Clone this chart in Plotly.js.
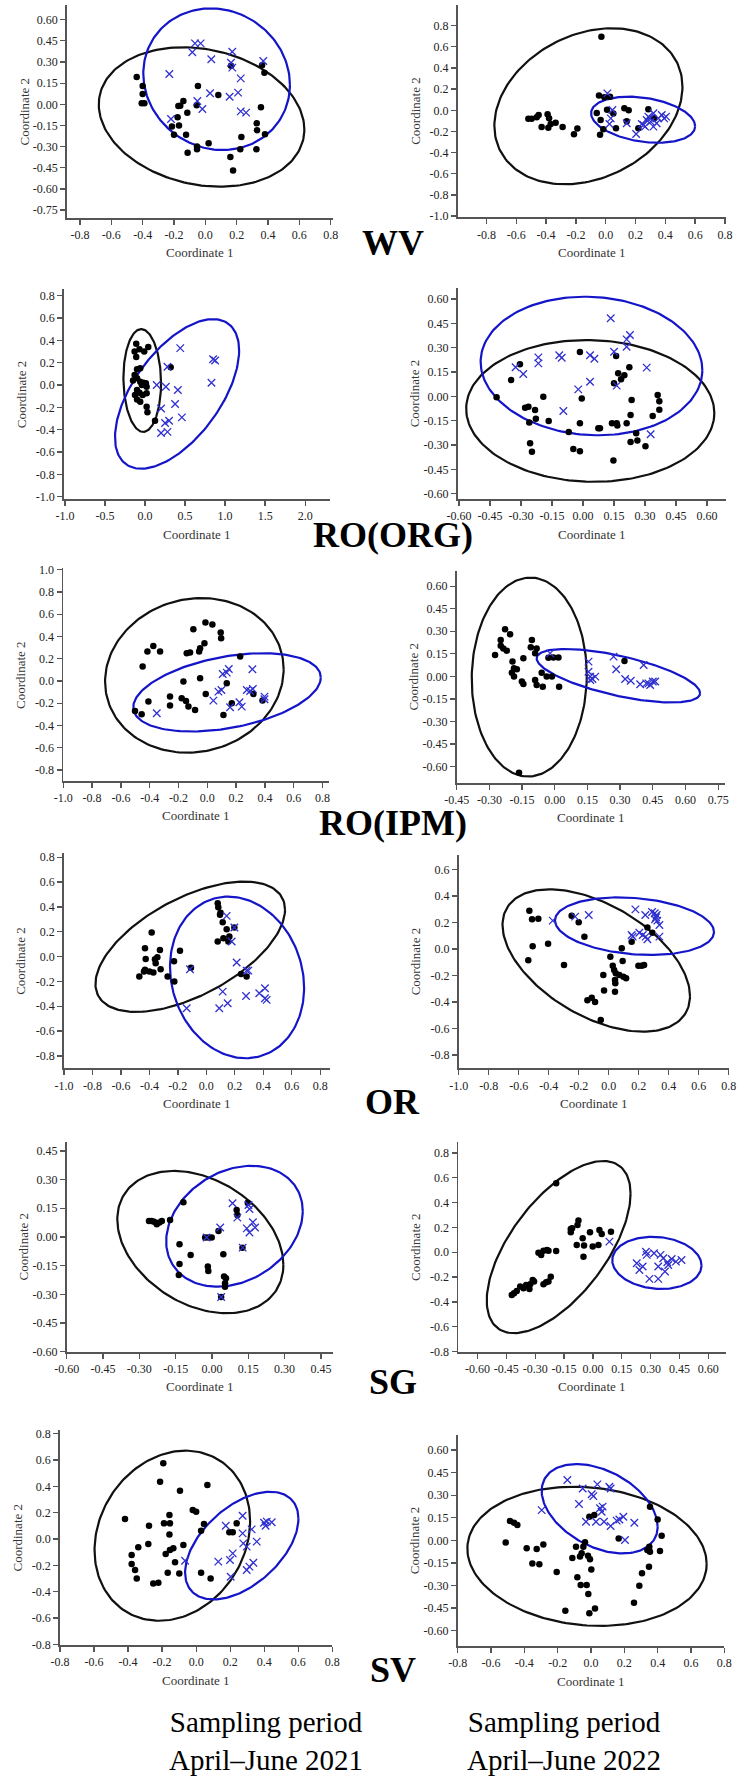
<!DOCTYPE html>
<html><head><meta charset="utf-8">
<script src="https://cdn.plot.ly/plotly-3.0.1.min.js"></script>
<style>html,body{margin:0;padding:0;background:#fff}#chart{width:745px;height:1785px}</style>
</head><body><div id="chart"></div>
<script>
// ===== DATA =====
const siteLabels = ["WV", "RO(ORG)", "RO(IPM)", "OR", "SG", "SV"];
const periodLabels = ["Sampling period<br>April\u2013June 2021", "Sampling period<br>April\u2013June 2022"];

// WV 2021
const wv21_blackX = [-0.438,-0.40,-0.40,-0.406,-0.389,-0.172,-0.16,-0.14,-0.115,-0.047,-0.055,-0.177,-0.168,-0.213,-0.20,-0.123,-0.053,-0.053,-0.113,0.021,0.083,0.164,0.362,0.377,0.355,0.328,0.33,0.381,0.23,0.223,0.326,0.16,0.177];
const wv21_blackY = [0.194,0.13,0.073,0.007,0.007,-0.012,-0.01,0.024,-0.06,0.13,-0.007,-0.092,-0.151,-0.158,-0.215,-0.215,-0.30,-0.319,-0.343,-0.276,0.066,0.274,0.276,0.224,-0.021,-0.135,-0.184,-0.213,-0.232,-0.319,-0.319,-0.373,-0.47];
const wv21_blueX = [-0.066,-0.03,-0.083,-0.23,0.038,0.172,0.164,0.172,0.226,0.37,0.03,-0.051,-0.019,-0.219,0.209,0.155,0.226,0.26];
const wv21_blueY = [0.432,0.432,0.369,0.215,0.319,0.373,0.295,0.26,0.184,0.307,0.078,0.024,-0.033,-0.104,0.083,0.054,-0.05,-0.059];
const wv21_ellipses = [[-0.024,-0.09,0.656,0.494,-0.18],[0.072,0.178,0.468,0.502,-0.08]];
const wv21_xticks = [-0.8,-0.6,-0.4,-0.2,0,0.2,0.4,0.6,0.8];
const wv21_yticks = [0.60,0.45,0.30,0.15,0,-0.15,-0.30,-0.45,-0.60,-0.75];

// WV 2022
const wv22_blackX = [-0.029,-0.045,-0.009,0.029,-0.519,-0.497,-0.463,-0.45,-0.39,-0.38,-0.369,-0.385,-0.43,-0.336,-0.289,-0.213,-0.19,-0.06,-0.034,-0.038,-0.016,0.009,0.051,0.069,0.125,0.154,0.141,0.219,0.286,0.324];
const wv22_blackY = [0.696,0.139,0.123,0.129,-0.079,-0.079,-0.066,-0.044,-0.038,-0.076,-0.129,-0.164,-0.157,-0.117,-0.157,-0.227,-0.173,-0.025,-0.091,-0.23,-0.18,0.006,-0.031,-0.17,0.019,0.0,-0.104,-0.17,0.009,-0.076];
const wv22_blueX = [0.011,0.045,0.034,0.025,0.141,0.204,0.253,0.275,0.286,0.302,0.32,0.342,0.32,0.376,0.392,0.405,0.264,0.242,0.298,0.353];
const wv22_blueY = [0.16,0.003,-0.076,-0.129,-0.123,-0.224,-0.139,-0.091,-0.06,-0.107,-0.154,-0.123,-0.028,-0.044,-0.076,-0.06,-0.154,-0.129,-0.076,-0.076];
const wv22_ellipses = [[-0.116,0.038,0.631,0.737,0.25],[0.251,-0.089,0.349,0.218,-0.28]];
const wv22_xticks = [-1.0,-0.8,-0.6,-0.4,-0.2,0,0.2,0.4,0.6,0.8];
const wv22_yticks = [0.8,0.6,0.4,0.2,0,-0.2,-0.4,-0.6,-0.8,-1.0];

// RO(ORG) 2021
const org21_blackX = [-0.11,-0.13,-0.07,-0.01,0.04,-0.11,-0.06,-0.10,-0.13,-0.10,-0.15,-0.06,-0.02,0.01,-0.04,0.02,-0.10,-0.07,-0.125,-0.03,0.02,-0.10,-0.06,0.02,0.03,0.125,0.32];
const org21_blackY = [0.37,0.30,0.32,0.30,0.34,0.25,0.15,0.14,0.09,0.06,0.04,0.03,0.02,0.015,0.0,-0.015,-0.045,-0.07,-0.09,-0.09,-0.075,-0.13,-0.15,-0.195,-0.245,-0.32,0.158];
const org21_blueX = [0.44,0.28,0.146,0.26,0.41,0.375,0.2,0.46,0.30,0.25,0.2,0.28,0.85,0.83,0.875];
const org21_blueY = [0.33,0.164,0.0,-0.015,-0.045,-0.17,-0.21,-0.29,-0.32,-0.34,-0.43,-0.42,0.23,0.02,0.22];
const org21_ellipses = [[-0.035,0.04,0.235,0.46,-0.05],[0.4,-0.08,0.775,0.67,0.58]];
const org21_xticks = [-1.0,-0.5,0,0.5,1.0,1.5,2.0];
const org21_yticks = [0.8,0.6,0.4,0.2,0,-0.2,-0.4,-0.6,-0.8,-1.0];

// RO(ORG) 2022
const org22_blackX = [-0.418,-0.348,-0.305,-0.28,-0.264,-0.232,-0.228,-0.26,-0.256,-0.247,-0.192,-0.166,-0.069,-0.047,-0.015,-0.006,-0.015,-0.015,0.074,0.082,0.14,0.163,0.166,0.147,0.15,0.16,0.17,0.184,0.2,0.224,0.211,0.23,0.235,0.257,0.263,0.23,0.302,0.337,0.361,0.369,0.369];
const org22_blackY = [-0.006,0.10,0.197,-0.07,-0.064,-0.084,-0.138,-0.162,-0.29,-0.341,-0.002,-0.152,-0.22,-0.325,0.273,-0.014,-0.166,-0.339,-0.197,-0.197,-0.166,-0.166,-0.18,-0.395,0.08,0.249,0.142,0.105,0.13,0.179,-0.166,-0.115,-0.023,-0.228,-0.273,-0.281,-0.308,-0.121,0.008,-0.031,-0.082];
const org22_blueX = [-0.326,-0.289,-0.216,-0.216,-0.115,-0.103,-0.095,-0.023,0.034,0.055,0.034,0.134,0.15,0.163,0.211,0.227,0.211,0.308,0.327];
const org22_blueY = [0.179,0.138,0.24,0.203,0.253,0.238,-0.09,0.043,0.253,0.232,0.09,0.481,0.275,0.066,0.351,0.378,0.306,0.177,-0.234];
const org22_ellipses = [[0.035,-0.09,0.60,0.437,-0.03],[0.041,0.187,0.536,0.427,-0.06]];
const org22_xticks = [-0.60,-0.45,-0.30,-0.15,0,0.15,0.30,0.45,0.60];
const org22_yticks = [0.60,0.45,0.30,0.15,0,-0.15,-0.30,-0.45,-0.60];

// RO(IPM) 2021
const ipm21_blackX = [-0.449,-0.416,-0.375,-0.328,-0.502,-0.456,-0.409,-0.259,-0.259,-0.178,-0.148,-0.131,-0.085,-0.166,-0.143,-0.12,-0.097,-0.057,-0.05,-0.02,-0.013,0.035,-0.05,-0.011,0.093,0.096,0.135,0.112,0.17,0.228,0.32,0.383];
const ipm21_blackY = [0.129,0.264,0.315,0.264,-0.27,-0.30,-0.186,-0.141,-0.222,-0.156,-0.18,-0.231,-0.261,-0.006,0.249,0.255,0.465,0.264,0.294,0.339,0.525,0.507,0.024,-0.117,0.435,0.384,-0.021,-0.306,-0.201,0.219,-0.117,-0.177];
const ipm21_blueX = [-0.351,0.042,0.077,0.098,0.107,0.135,0.149,0.158,0.223,0.239,0.274,0.297,0.316,0.313,0.397,0.397];
const ipm21_blueY = [-0.291,-0.177,-0.096,-0.081,0.063,0.075,0.108,-0.237,-0.192,-0.231,-0.081,-0.09,-0.072,0.105,-0.141,-0.165];
const ipm21_ellipses = [[-0.09,0.05,0.62,0.695,0.08],[0.137,-0.103,0.651,0.352,0.38]];
const ipm21_xticks = [-1.0,-0.8,-0.6,-0.4,-0.2,0,0.2,0.4,0.6,0.8];
const ipm21_yticks = [1.0,0.8,0.6,0.4,0.2,0,-0.2,-0.4,-0.6,-0.8];

// RO(IPM) 2022
const ipm22_blackX = [-0.274,-0.248,-0.248,-0.228,-0.205,-0.236,-0.22,-0.194,-0.187,-0.174,-0.197,-0.187,-0.151,-0.144,-0.144,-0.105,-0.11,-0.09,-0.083,-0.09,-0.083,-0.055,-0.06,-0.037,-0.013,0.02,-0.029,-0.006,0.017,0.32,-0.164];
const ipm22_blackY = [0.142,0.204,0.242,0.313,0.28,0.186,0.171,0.098,0.053,0.047,0.024,-0.002,-0.035,-0.051,0.12,0.242,0.193,0.153,0.186,-0.024,-0.058,-0.069,0.024,-0.002,-0.002,-0.069,0.124,0.126,0.126,0.102,-0.641];
const ipm22_blueX = [-0.021,0.155,0.155,0.163,0.173,0.186,0.163,0.27,0.282,0.323,0.349,0.408,0.392,0.42,0.438,0.45,0.461,0.43];
const ipm22_blueY = [0.153,0.098,0.031,-0.002,-0.018,-0.002,-0.024,0.131,0.047,-0.018,-0.029,0.075,-0.053,-0.047,-0.058,-0.035,-0.035,-0.047];
const ipm22_ellipses = [[-0.117,-0.005,0.264,0.662,0.02],[0.292,0.004,0.375,0.178,-0.65]];
const ipm22_xticks = [-0.45,-0.30,-0.15,0,0.15,0.30,0.45,0.60,0.75];
const ipm22_yticks = [0.60,0.45,0.30,0.15,0,-0.15,-0.30,-0.45,-0.60];

// OR 2021
const or21_blackX = [-0.471,-0.438,-0.431,-0.431,-0.426,-0.384,-0.40,-0.372,-0.361,-0.356,-0.344,-0.326,-0.321,-0.272,-0.227,-0.225,-0.185,-0.108,0.08,0.084,0.096,0.10,0.115,0.143,0.08,0.12,0.162,0.155,0.197,0.244,0.283];
const or21_blackY = [-0.161,-0.121,-0.107,0.067,-0.019,0.193,-0.121,-0.129,-0.021,-0.054,-0.005,0.054,-0.102,-0.161,-0.038,-0.201,0.046,-0.089,0.43,0.397,0.336,0.354,0.276,0.22,0.121,0.148,0.161,0.121,0.234,-0.14,-0.161];
const or21_blueX = [0.143,0.197,0.178,-0.115,-0.138,0.115,0.091,0.15,0.213,0.283,0.295,0.279,0.372,0.412,0.412,0.424];
const or21_blueY = [0.328,0.234,0.121,-0.102,-0.416,-0.282,-0.416,-0.376,-0.048,-0.113,-0.113,-0.317,-0.295,-0.255,-0.336,-0.349];
const or21_ellipses = [[-0.113,0.079,0.666,0.525,0.57],[0.216,-0.168,0.471,0.651,-0.13]];
const or21_xticks = [-1.0,-0.8,-0.6,-0.4,-0.2,0,0.2,0.4,0.6,0.8];
const or21_yticks = [0.8,0.6,0.4,0.2,0,-0.2,-0.4,-0.6,-0.8];

// OR 2022
const or22_blackX = [-0.529,-0.511,-0.469,-0.536,-0.507,-0.404,-0.298,-0.247,-0.2,-0.162,-0.142,-0.113,-0.091,-0.053,-0.036,-0.031,0.011,0.027,0.036,0.047,0.042,0.044,0.042,0.071,0.098,0.116,0.087,0.093,0.153,0.198,0.22,0.236,0.258,0.291];
const or22_blackY = [0.289,0.224,0.229,-0.085,0.02,0.04,-0.121,0.251,0.201,0.093,-0.387,-0.367,-0.399,-0.535,-0.196,-0.314,-0.058,-0.126,-0.158,-0.183,-0.234,-0.259,-0.322,-0.196,-0.209,-0.221,0.005,-0.09,0.055,-0.126,-0.126,-0.121,0.163,0.123];
const or22_blueX = [-0.373,-0.224,-0.133,0.178,0.153,0.16,0.204,0.227,0.247,0.258,0.244,0.289,0.307,0.32,0.309,0.324,0.338,0.338,0.316];
const or22_blueY = [0.214,0.244,0.256,0.299,0.106,0.093,0.123,0.106,0.093,0.073,0.256,0.279,0.269,0.256,0.224,0.214,0.181,0.093,0.239];
const or22_ellipses = [[-0.083,-0.087,0.625,0.537,-0.5],[0.172,0.172,0.53,0.217,-0.2]];
const or22_xticks = [-1.0,-0.8,-0.6,-0.4,-0.2,0,0.2,0.4,0.6,0.8];
const or22_yticks = [0.6,0.4,0.2,0,-0.2,-0.4,-0.6,-0.8];

// SG 2021
const sg21_blackX = [-0.26,-0.249,-0.239,-0.228,-0.217,-0.207,-0.173,-0.118,-0.134,-0.134,-0.137,-0.088,-0.028,-0.015,-0.001,-0.017,-0.015,0.027,0.047,0.05,0.058,0.054,0.054,0.038,0.102,0.105,0.126,0.148];
const sg21_blackY = [0.084,0.084,0.08,0.066,0.075,0.084,0.089,0.181,-0.038,-0.141,-0.199,-0.094,-0.003,-0.003,-0.003,-0.155,-0.178,0.031,-0.091,-0.207,-0.216,-0.242,-0.26,-0.314,0.141,0.115,-0.056,0.179];
const sg21_blueX = [0.085,0.105,0.034,-0.022,0.127,0.038,0.151,0.155,0.144,0.155,0.169,0.178];
const sg21_blueY = [0.176,0.101,0.049,-0.003,-0.056,-0.314,0.167,0.146,0.045,0.023,0.077,0.049];
const sg21_ellipses = [[-0.048,-0.027,0.343,0.372,-0.32],[0.093,0.056,0.282,0.316,0.25]];
const sg21_xticks = [-0.60,-0.45,-0.30,-0.15,0,0.15,0.30,0.45];
const sg21_yticks = [0.45,0.30,0.15,0,-0.15,-0.30,-0.45,-0.60];

// SG 2022
const sg22_blackX = [-0.422,-0.41,-0.396,-0.378,-0.361,-0.347,-0.33,-0.326,-0.313,-0.306,-0.257,-0.243,-0.231,-0.219,-0.283,-0.269,-0.257,-0.239,-0.231,-0.191,-0.191,-0.115,-0.115,-0.108,-0.075,-0.08,-0.084,-0.053,-0.046,-0.049,-0.015,-0.001,0.034,0.029,0.046,0.094];
const sg22_blackY = [-0.343,-0.33,-0.311,-0.276,-0.29,-0.263,-0.295,-0.257,-0.223,-0.236,-0.257,-0.241,-0.236,-0.196,-0.003,-0.021,0.013,0.019,0.013,0.011,0.555,0.188,0.161,0.193,0.255,0.22,0.059,0.113,0.054,-0.035,0.161,0.046,0.18,0.059,0.147,0.166];
const sg22_blueX = [0.086,0.228,0.259,0.242,0.276,0.28,0.294,0.318,0.34,0.34,0.352,0.366,0.375,0.387,0.392,0.41,0.432,0.461];
const sg22_blueY = [0.086,-0.088,-0.115,-0.142,0.005,-0.021,-0.214,-0.008,-0.115,-0.214,-0.021,-0.048,-0.155,-0.08,-0.102,-0.054,-0.075,-0.062];
const sg22_ellipses = [[-0.178,0.042,0.374,0.693,0.62],[0.333,-0.085,0.232,0.21,-0.1]];
const sg22_xticks = [-0.60,-0.45,-0.30,-0.15,0,0.15,0.30,0.45,0.60];
const sg22_yticks = [0.8,0.6,0.4,0.2,0,-0.2,-0.4,-0.6,-0.8];

// SV 2021
const sv21_blackX = [-0.418,-0.379,-0.379,-0.359,-0.349,-0.34,-0.281,-0.277,-0.252,-0.222,-0.212,-0.193,-0.189,-0.179,-0.157,-0.154,-0.157,-0.154,-0.134,-0.167,-0.124,-0.095,-0.099,-0.075,-0.02,0.0,0.029,0.046,0.029,0.066,0.085,0.195,0.215,0.238];
const sv21_blackY = [0.152,-0.122,-0.19,-0.235,-0.299,-0.063,-0.038,0.101,-0.337,-0.332,0.435,0.575,0.119,-0.114,0.182,0.119,0.035,-0.084,-0.071,-0.256,-0.177,0.367,-0.261,-0.046,0.22,0.208,0.063,0.114,-0.256,0.41,-0.299,0.051,0.051,0.119];
const sv21_blueX = [-0.065,0.13,0.174,0.199,0.203,0.215,0.273,0.273,0.277,0.297,0.297,0.313,0.326,0.336,0.356,0.399,0.415,0.408,0.444];
const sv21_blueY = [-0.165,-0.172,0.101,-0.159,-0.286,-0.109,0.177,0.043,-0.033,-0.058,-0.235,-0.21,0.073,-0.18,-0.02,0.124,0.132,0.101,0.127];
const sv21_ellipses = [[-0.14,0.025,0.457,0.646,0.17],[0.268,-0.05,0.333,0.409,0.5]];
const sv21_xticks = [-0.8,-0.6,-0.4,-0.2,0,0.2,0.4,0.6,0.8];
const sv21_yticks = [0.8,0.6,0.4,0.2,0,-0.2,-0.4,-0.6,-0.8];

// SV 2022
const sv22_blackX = [-0.512,-0.486,-0.462,-0.442,-0.386,-0.352,-0.326,-0.31,-0.286,-0.206,-0.154,-0.112,-0.09,-0.082,-0.066,-0.062,-0.056,-0.046,-0.036,-0.026,-0.018,-0.016,-0.006,-0.01,0.002,-0.01,0.02,0.024,0.166,0.258,0.29,0.306,0.338,0.35,0.354,0.348,0.354,0.40,0.414,0.424];
const sv22_blackY = [-0.015,0.128,0.117,0.102,-0.053,-0.153,-0.058,-0.159,-0.027,-0.21,-0.467,-0.117,-0.042,-0.246,-0.108,-0.297,-0.086,-0.042,-0.013,-0.297,-0.102,-0.356,-0.126,-0.485,-0.193,0.157,0.168,-0.452,0.013,-0.414,-0.301,-0.219,-0.064,-0.042,0.224,-0.175,-0.075,0.139,-0.071,0.031];
const sv22_blueX = [-0.296,-0.142,-0.072,-0.05,-0.03,0.004,0.014,0.038,0.03,0.054,0.064,0.07,0.078,0.11,0.118,0.118,0.154,0.17,0.194,0.204,0.26];
const sv22_blueY = [0.201,0.401,0.241,0.345,0.124,0.306,0.294,0.372,0.124,0.213,0.19,0.224,0.124,0.356,0.345,0.095,0.131,0.139,0.157,0.002,0.117];
const sv22_ellipses = [[-0.024,-0.106,0.718,0.4625,-0.11],[0.052,0.21,0.348,0.297,-0.4]];
const sv22_xticks = [-0.8,-0.6,-0.4,-0.2,0,0.2,0.4,0.6,0.8];
const sv22_yticks = [0.60,0.45,0.30,0.15,0,-0.15,-0.30,-0.45,-0.60];

// ===== ASSEMBLY (layout / styling) =====
const W = 745, H = 1785;
const panelData = [
  [wv21_blackX, wv21_blackY, wv21_blueX, wv21_blueY, wv21_ellipses, wv21_xticks, wv21_yticks],
  [wv22_blackX, wv22_blackY, wv22_blueX, wv22_blueY, wv22_ellipses, wv22_xticks, wv22_yticks],
  [org21_blackX, org21_blackY, org21_blueX, org21_blueY, org21_ellipses, org21_xticks, org21_yticks],
  [org22_blackX, org22_blackY, org22_blueX, org22_blueY, org22_ellipses, org22_xticks, org22_yticks],
  [ipm21_blackX, ipm21_blackY, ipm21_blueX, ipm21_blueY, ipm21_ellipses, ipm21_xticks, ipm21_yticks],
  [ipm22_blackX, ipm22_blackY, ipm22_blueX, ipm22_blueY, ipm22_ellipses, ipm22_xticks, ipm22_yticks],
  [or21_blackX, or21_blackY, or21_blueX, or21_blueY, or21_ellipses, or21_xticks, or21_yticks],
  [or22_blackX, or22_blackY, or22_blueX, or22_blueY, or22_ellipses, or22_xticks, or22_yticks],
  [sg21_blackX, sg21_blackY, sg21_blueX, sg21_blueY, sg21_ellipses, sg21_xticks, sg21_yticks],
  [sg22_blackX, sg22_blackY, sg22_blueX, sg22_blueY, sg22_ellipses, sg22_xticks, sg22_yticks],
  [sv21_blackX, sv21_blackY, sv21_blueX, sv21_blueY, sv21_ellipses, sv21_xticks, sv21_yticks],
  [sv22_blackX, sv22_blackY, sv22_blueX, sv22_blueY, sv22_ellipses, sv22_xticks, sv22_yticks]
];
// pixel boxes [left, right, top, bottom] and axis ranges
const boxes = [
  [67,333,5,218],[457.7,725.7,5,217.3],
  [64,330,289.3,499],[457.7,725.7,288.3,499],
  [63.3,329.3,568.3,781],[456.7,724.7,570.7,783],
  [64,330,853.3,1068.3],[458.7,728.7,855,1068.3],
  [66.7,333,1141.7,1351.7],[458.3,726.3,1141.7,1351.7],
  [60,332.3,1430,1645],[457.7,724.3,1435,1646]
];
const xRanges = [[-0.883,0.815],[-0.993,0.805],[-1.012,2.31],[-0.606,0.69],[-1.0,0.847],[-0.45,0.78],
                 [-1.0,0.869],[-1.0,0.8],[-0.6,0.50],[-0.70,0.694],[-0.8,0.8],[-0.8,0.8]];
const yRanges = [[-0.806,0.704],[-1.011,0.995],[-1.021,0.857],[-0.633,0.666],[-0.90,1.013],[-0.71,0.703],
                 [-0.90,0.832],[-0.90,0.709],[-0.60,0.498],[-0.80,0.89],[-0.805,0.828],[-0.702,0.70]];
const labelY = [243, 535, 823, 1102, 1382, 1670];

function decimals(arr){ return arr.some(v => Math.abs(Math.round(v*10) - v*10) > 1e-6) ? 2 : 1; }
function fmt(v, d){ return Math.abs(v) < 1e-9 ? (0).toFixed(d) : v.toFixed(d); }
function ellipsePts(p){
  const [cx, cy, rx, ry, s] = p; const d = Math.asin(s);
  const xs = [], ys = [];
  for (let k = 0; k <= 180; k++){ const t = 2*Math.PI*k/180; xs.push(cx + rx*Math.cos(t)); ys.push(cy + ry*Math.sin(t + d)); }
  return [xs, ys];
}

const FONT = "Liberation Serif, Times New Roman, serif";
const traces = [], layout = {
  width: W, height: H, margin: {l:0, r:0, t:0, b:0}, showlegend: false,
  paper_bgcolor: '#fff', plot_bgcolor: '#fff', font: {family: FONT, color: '#222'},
  annotations: []
};
const ellColors = ['#111111', '#1414c8'];

panelData.forEach((pd, i) => {
  const n = i + 1, xa = 'x' + (n === 1 ? '' : n), ya = 'y' + (n === 1 ? '' : n);
  const [bx, by, ux, uy, ells, xt, yt] = pd;
  const [l, r, t, b] = boxes[i];
  ells.forEach((e, j) => {
    const [xs, ys] = ellipsePts(e);
    traces.push({x: xs, y: ys, xaxis: xa, yaxis: ya, mode: 'lines', line: {color: ellColors[j], width: 2.2}, hoverinfo: 'skip'});
  });
  traces.push({x: bx, y: by, xaxis: xa, yaxis: ya, mode: 'markers', marker: {symbol: 'circle', size: 6.5, color: '#000'}});
  traces.push({x: ux, y: uy, xaxis: xa, yaxis: ya, mode: 'markers', marker: {symbol: 'x-thin', size: 7.5, line: {color: '#3030d0', width: 1.3}}});
  const dx = decimals(xt), dy = decimals(yt);
  const common = {showline: true, linecolor: '#555', linewidth: 1.8, ticks: 'outside', ticklen: 5, tickwidth: 1.3,
    tickcolor: '#555', showgrid: false, zeroline: false, tickmode: 'array', fixedrange: true,
    tickfont: {family: FONT, size: 12, color: '#222'}};
  layout['xaxis' + (n === 1 ? '' : n)] = Object.assign({}, common, {
    domain: [l/W, r/W], range: xRanges[i], anchor: ya, tickvals: xt, ticktext: xt.map(v => fmt(v, dx))});
  layout['yaxis' + (n === 1 ? '' : n)] = Object.assign({}, common, {
    domain: [1 - b/H, 1 - t/H], range: yRanges[i], anchor: xa, tickvals: yt, ticktext: yt.map(v => fmt(v, dy))});
  layout.annotations.push({xref: 'paper', yref: 'paper', x: ((l + r)/2)/W, y: 1 - (b + 35)/H, text: 'Coordinate 1',
    showarrow: false, xanchor: 'center', yanchor: 'middle', font: {family: FONT, size: 13, color: '#333'}});
  layout.annotations.push({xref: 'paper', yref: 'paper', x: (l - 43)/W, y: 1 - ((t + b)/2)/H, text: 'Coordinate 2',
    textangle: -90, showarrow: false, xanchor: 'center', yanchor: 'middle', font: {family: FONT, size: 13, color: '#333'}});
});

siteLabels.forEach((s, k) => {
  layout.annotations.push({xref: 'paper', yref: 'paper', x: 393/W, y: 1 - labelY[k]/H, text: '<b>' + s + '</b>',
    showarrow: false, xanchor: 'center', yanchor: 'middle', font: {family: FONT, size: 36, color: '#000'}});
});
[266, 564].forEach((cx, k) => {
  layout.annotations.push({xref: 'paper', yref: 'paper', x: cx/W, y: 1 - 1741/H, text: periodLabels[k],
    showarrow: false, xanchor: 'center', yanchor: 'middle', font: {family: FONT, size: 29, color: '#000'}});
});

Plotly.newPlot('chart', traces, layout, {staticPlot: true, displayModeBar: false});
</script>
</body></html>
